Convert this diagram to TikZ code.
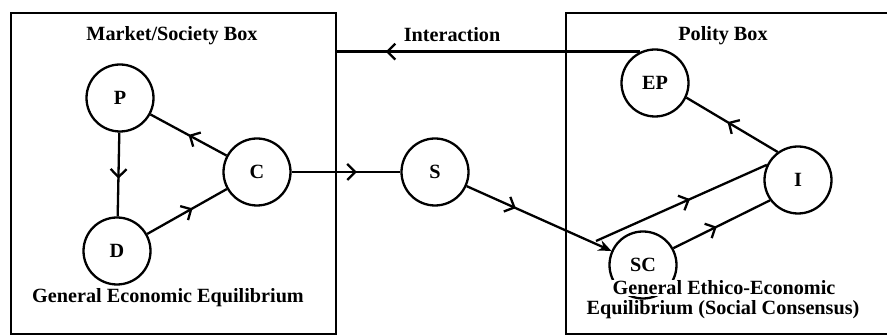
\documentclass[tikz,border=0pt]{standalone}
\usepackage{fontspec}
\setmainfont{Liberation Serif}
\usetikzlibrary{arrows.meta,decorations.markings}
\begin{document}
\begin{tikzpicture}[x=1pt,y=-1pt,
  every node/.style={font=\fontsize{20.2}{20}\selectfont\bfseries},
  circ/.style={circle,draw,line width=2.3pt,minimum size=67pt,inner sep=0pt},
  lbl/.style={inner sep=0pt,anchor=base},
  conn/.style={line width=2.3pt},
  boxst/.style={draw,line width=2.2pt,inner sep=0pt,anchor=north west},
  midarrow/.style={postaction={decorate},decoration={markings,
     mark=at position #1 with {\arrow{Straight Barb[length=8pt,width=16pt,line width=2.3pt]}}}}
]
\useasboundingbox (0,0) rectangle (887,336);
\fill[white] (0,0) rectangle (887,336);

% boxes
\node[boxst,minimum width=325pt,minimum height=321pt] (mbox) at (10,12) {};
\node[boxst,minimum width=340pt,minimum height=321pt] (pbox) at (565,12) {};

% titles
\node[lbl] (tm) at (172,41) {Market/Society Box};
\node[lbl] (tge) at (168,303) {General Economic Equilibrium};
\node[lbl] (ti) at (452,42) {Interaction};
\node[lbl] (tp) at (723,41) {Polity Box};

% circles
\node[circ] (P) at (120,98) {P};
\node[circ] (D) at (117,251) {D};
\node[circ] (C) at (257,172) {C};
\node[circ] (S) at (435,172) {S};
\node[circ] (EP) at (655,83) {EP};
\node[circ] (I) at (798,180) {I};
\node[circ] (SC) at (643,265) {SC};

% lower right texts drawn over the SC circle
\node[lbl,fill=white,inner sep=1pt] (tee1) at (724,295) {General Ethico-Economic};
\node[lbl] (tee2) at (723,315) {Equilibrium (Social Consensus)};

% connectors
\draw[conn,midarrow=0.55] (P) -- (D);
\draw[conn,midarrow=0.57] (D) -- (C);
\draw[conn,midarrow=0.5] (C) -- (P);
\draw[conn,midarrow=0.6] (C) -- (S);
\draw[conn,midarrow=0.34,-{Stealth[length=13pt,width=11pt]}] (S) -- (SC);
\coordinate (u) at (596,241);
\draw[conn,midarrow=0.55] (u) -- (I.154);
\draw[conn,midarrow=0.45] (SC.29) -- (I.216);
\draw[conn,midarrow=0.55] (I.126) -- (EP.-25);
\draw[conn,midarrow=0.84] (EP.115) -- (EP.115 -| mbox.east);
\end{tikzpicture}
\end{document}
